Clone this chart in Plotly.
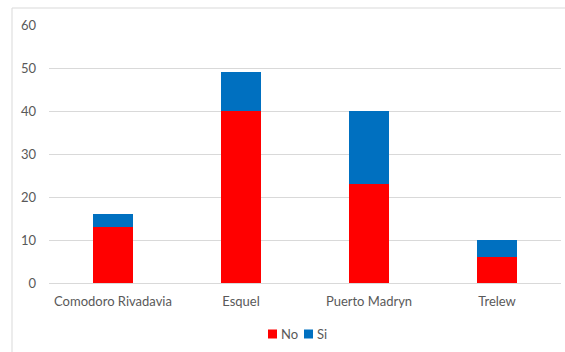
import plotly.graph_objects as go

# Ciudades y conteos por respuesta
ciudades = ["Comodoro Rivadavia", "Esquel", "Puerto Madryn", "Trelew"]
no_vals = [13, 40, 23, 6]
si_vals = [3, 9, 17, 4]
y_ticks = [0, 10, 20, 30, 40, 50, 60]
series = [("No", no_vals, "#FF0000"), ("Si", si_vals, "#0070C0")]

W, H = 565, 352
ML, MR, MT, MB = 49, 4, 25, 69
pw = W - ML - MR
ph = H - MT - MB


def px_x(px):
    return (px - ML) / pw


def px_y(py):
    return (H - MB - py) / ph


fig = go.Figure()
for name, vals, color in series:
    fig.add_trace(go.Bar(name=name, x=ciudades, y=vals, showlegend=False,
                         marker=dict(color=color, line=dict(width=0))))

font = dict(family="Lato, Open Sans, sans-serif", size=13, color="#595959")

# chart frame (left and top edges)
bx = px_x(12)
by = px_y(8)
fig.add_shape(type="line", xref="paper", yref="paper", x0=bx, x1=bx, y0=-1, y1=by,
              line=dict(color="#D9D9D9", width=1))
fig.add_shape(type="line", xref="paper", yref="paper", x0=bx, x1=1.2, y0=by, y1=by,
              line=dict(color="#D9D9D9", width=1))

# compact legend below the plot: coloured square + label per series
lx = 268
ly = 334
for name, _, color in series:
    fig.add_shape(type="rect", xref="paper", yref="paper",
                  x0=px_x(lx), x1=px_x(lx + 9), y0=px_y(ly + 4.5), y1=px_y(ly - 4.5),
                  fillcolor=color, line=dict(width=0))
    fig.add_annotation(text=name, xref="paper", yref="paper", x=px_x(lx + 11),
                       y=px_y(ly), xanchor="left", yanchor="middle", showarrow=False,
                       font=font)
    lx += 36

fig.update_layout(
    width=W, height=H,
    margin=dict(l=ML, r=MR, t=MT, b=MB),
    barmode="stack",
    bargap=0.68,
    plot_bgcolor="white",
    paper_bgcolor="white",
    font=font,
    showlegend=False,
    xaxis=dict(showgrid=False, showline=False, ticks="", tickfont=font,
               ticklabelstandoff=9),
    yaxis=dict(range=[0, 60], tickvals=y_ticks, showgrid=True, gridcolor="#D9D9D9",
               gridwidth=1, zeroline=True, zerolinecolor="#D9D9D9", zerolinewidth=1,
               showline=False, ticks="", ticklabelstandoff=12, tickfont=font),
)

fig.write_html("out.html")
